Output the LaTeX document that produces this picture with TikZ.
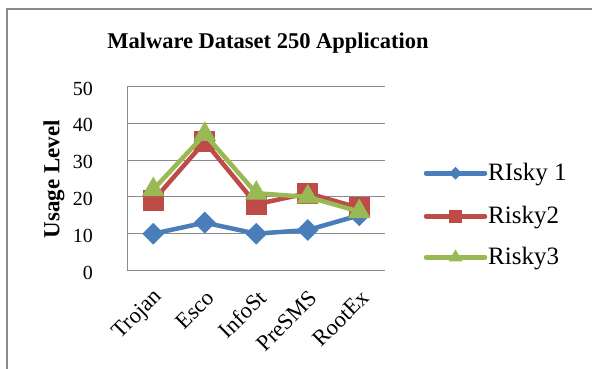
\documentclass[tikz,border=0pt]{standalone}
\usepackage{fontspec}
\setmainfont{Liberation Serif}
\usepackage{tikz}
\usetikzlibrary{calc}
\usetikzlibrary{shapes, arrows, positioning}

\definecolor{blueS}{HTML}{4A7EBB}
\definecolor{redS}{HTML}{BE4B48}
\definecolor{greenS}{HTML}{98B954}
\definecolor{gridgray}{HTML}{8C8C8C}
\definecolor{framegray}{HTML}{8A8A8A}

\begin{document}
\begin{tikzpicture}[x=1pt,y=-1pt,
  grid/.style={draw=gridgray,line width=1.1pt},
  series/.style={line width=4.5pt,line join=round,line cap=round},
  dia/.style={diamond,aspect=1,fill=blueS,inner sep=0pt,minimum size=22pt},
  sq/.style={rectangle,fill=redS,inner sep=0pt,minimum size=21pt},
  tri/.style={regular polygon,regular polygon sides=3,fill=greenS,inner sep=0pt,minimum size=26pt},
  ticklab/.style={font=\fontsize{20}{22}\selectfont,inner sep=0pt,anchor=east},
  catlab/.style={font=\fontsize{22.5}{24}\selectfont,inner sep=0pt,rotate=45,anchor=east},
  leglab/.style={font=\fontsize{25}{27}\selectfont,inner sep=0pt,anchor=base west}]
  \useasboundingbox (0,0) rectangle (592,369);

  % frame
  \draw[framegray,line width=2.5pt] (7.2,372) -- (7.2,9.2) -- (595,9.2);

  \node[font=\bfseries\fontsize{22.5}{24}\selectfont] (title) at (268,43) {Malware Dataset 250 Application};
  \node[font=\bfseries\fontsize{23}{25}\selectfont,rotate=90] (ylabel) at (54,179) {Usage Level};

  % axes and grid
  \foreach \v in {10,20,...,50}
    \draw[grid] (127.5,{270.5-3.68*\v}) -- (385,{270.5-3.68*\v});
  \draw[grid] (127.5,86.5) -- (127.5,270.5) -- (385,270.5);
  \foreach \v in {0,10,...,50}
    \node[ticklab] (yt\v) at (93,{272.5-3.68*\v}) {\v};

  \foreach \c [count=\i] in {Trojan,Esco,InfoSt,PreSMS,RootEx}
    \node[catlab] (cat\i) at ({127.5+51.5*(\i-0.5)+6},294) {\c};

  % data
  \foreach \v [count=\i] in {10,13,10,11,15}
    \coordinate (a\i) at ({127.5+51.5*(\i-0.5)},{270.5-3.68*\v});
  \foreach \v [count=\i] in {19,35,18,21,17}
    \coordinate (b\i) at ({127.5+51.5*(\i-0.5)},{270.5-3.68*\v});
  \foreach \v [count=\i] in {22,37,21,20,16}
    \coordinate (c\i) at ({127.5+51.5*(\i-0.5)},{270.5-3.68*\v});

  \draw[series,blueS] (a1) -- (a2) -- (a3) -- (a4) -- (a5);
  \foreach \i in {1,...,5} \node[dia] (ma\i) at (a\i) {};
  \draw[series,redS] (b1) -- (b2) -- (b3) -- (b4) -- (b5);
  \foreach \i in {1,...,5} \node[sq] (mb\i) at (b\i) {};
  \draw[series,greenS] (c1) -- (c2) -- (c3) -- (c4) -- (c5);
  \foreach \i in {1,...,5} \node[tri] (mc\i) at (c\i) {};

  % legend
  \coordinate (la1) at (426,173.3);
  \coordinate (la2) at (426,216.3);
  \coordinate (la3) at (426,257.3);
  \foreach \k in {1,2,3}
    \coordinate (lb\k) at ($(la\k)+(59,0)$);
  \draw[series,blueS] (la1) -- (lb1);
  \draw[series,redS] (la2) -- (lb2);
  \draw[series,greenS] (la3) -- (lb3);
  \node[dia,minimum size=13pt] (lm1) at ($(la1)!0.5!(lb1)$) {};
  \node[sq,minimum size=13pt] (lm2) at ($(la2)!0.5!(lb2)$) {};
  \node[tri,minimum size=16pt] (lm3) at ($(la3)!0.5!(lb3)$) {};
  \node[leglab] (lt1) at ($(lb1)+(3,7.3)$) {RIsky 1};
  \node[leglab] (lt2) at ($(lb2)+(3,7.3)$) {Risky2};
  \node[leglab] (lt3) at ($(lb3)+(3,7.3)$) {Risky3};
\end{tikzpicture}
\end{document}
